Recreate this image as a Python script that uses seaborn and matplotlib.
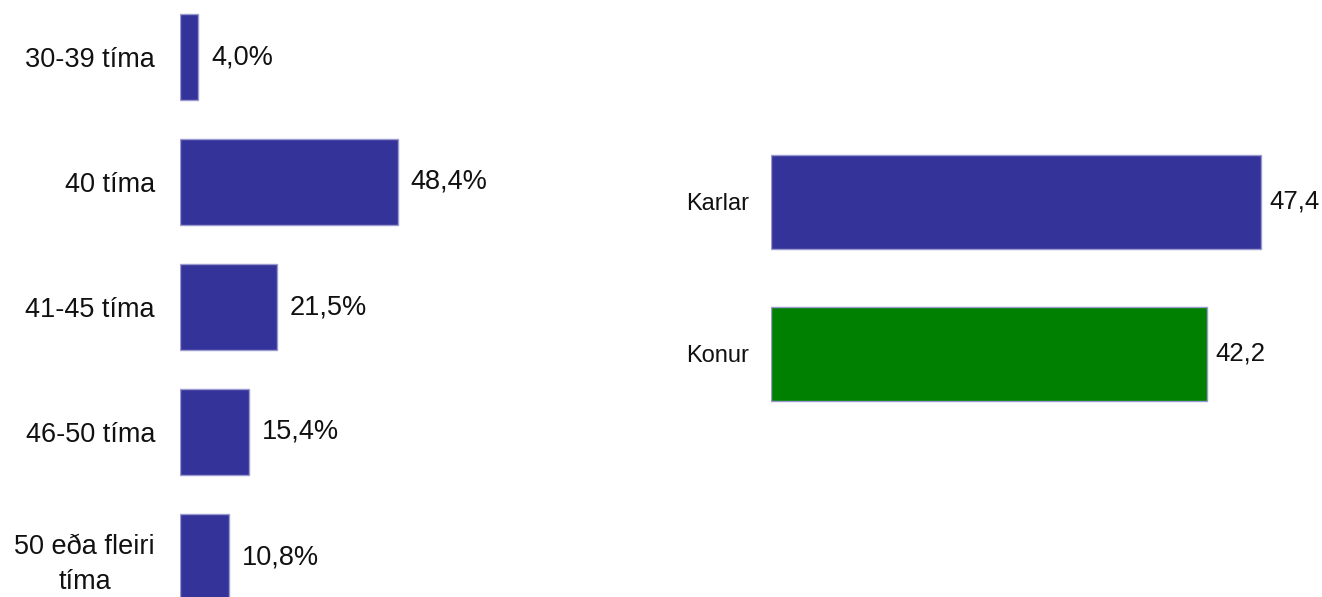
import matplotlib
matplotlib.use("Agg")
import matplotlib.pyplot as plt
import seaborn as sns

# Data
hours_categories = ["30-39 tíma", "40 tíma", "41-45 tíma", "46-50 tíma", "50 eða fleiri\ntíma"]
hours_values = [4.0, 48.4, 21.5, 15.4, 10.8]
gender_categories = ["Karlar", "Konur"]
gender_values = [47.4, 42.2]

BLUE = "#333399"
GREEN = "#008000"

sns.set_theme(style="white")
plt.rcParams["font.family"] = ["Liberation Sans", "DejaVu Sans"]

W, H = 1322, 597
fig = plt.figure(figsize=(W / 100, H / 100), dpi=100)
fig.patch.set_facecolor("white")
PX = 72 / 100  # points per pixel

# Left panel
ax1 = fig.add_axes([180 / W, 0, 270 / W, 1])
sns.barplot(x=hours_values, y=hours_categories, ax=ax1, color=BLUE, width=0.69,
            orient="h", saturation=1, edgecolor="#9a9ad0", linewidth=1)
ax1.set_xlim(0, 60)
ax1.set_ylim(4.32, -0.456)
ax1.tick_params(axis="y", length=0, pad=25 * PX, labelsize=19.5, labelcolor="#111111")
ax1.set_xticks([])
for t in ax1.get_yticklabels():
    t.set_multialignment("center")
    t.set_linespacing(1.45)
ax1.bar_label(ax1.containers[0],
              labels=[f"{v:.1f}".replace(".", ",") + "%" for v in hours_values],
              padding=13 * PX, fontsize=19.5, color="#111111")
for s in ax1.spines.values():
    s.set_visible(False)
ax1.set_xlabel("")
ax1.set_ylabel("")

# Right panel
ax2 = fig.add_axes([771 / W, 0, 548 / W, 1])
sns.barplot(x=gender_values, y=gender_categories, hue=gender_categories, ax=ax2,
            palette=[BLUE, GREEN], width=0.62, orient="h", saturation=1,
            edgecolor="#9a9ad0", linewidth=1, legend=False)
ax2.set_xlim(0, 53)
ax2.set_ylim(2.599, -1.329)
ax2.tick_params(axis="y", length=0, pad=22 * PX, labelsize=17, labelcolor="#111111")
ax2.set_xticks([])
for c, v in zip(ax2.containers, gender_values):
    ax2.bar_label(c, labels=[f"{v:.1f}".replace(".", ",")], padding=8 * PX,
                  fontsize=18.5, color="#111111")
for s in ax2.spines.values():
    s.set_visible(False)
ax2.set_xlabel("")
ax2.set_ylabel("")

fig.savefig("out.png", dpi=100, facecolor="white")
